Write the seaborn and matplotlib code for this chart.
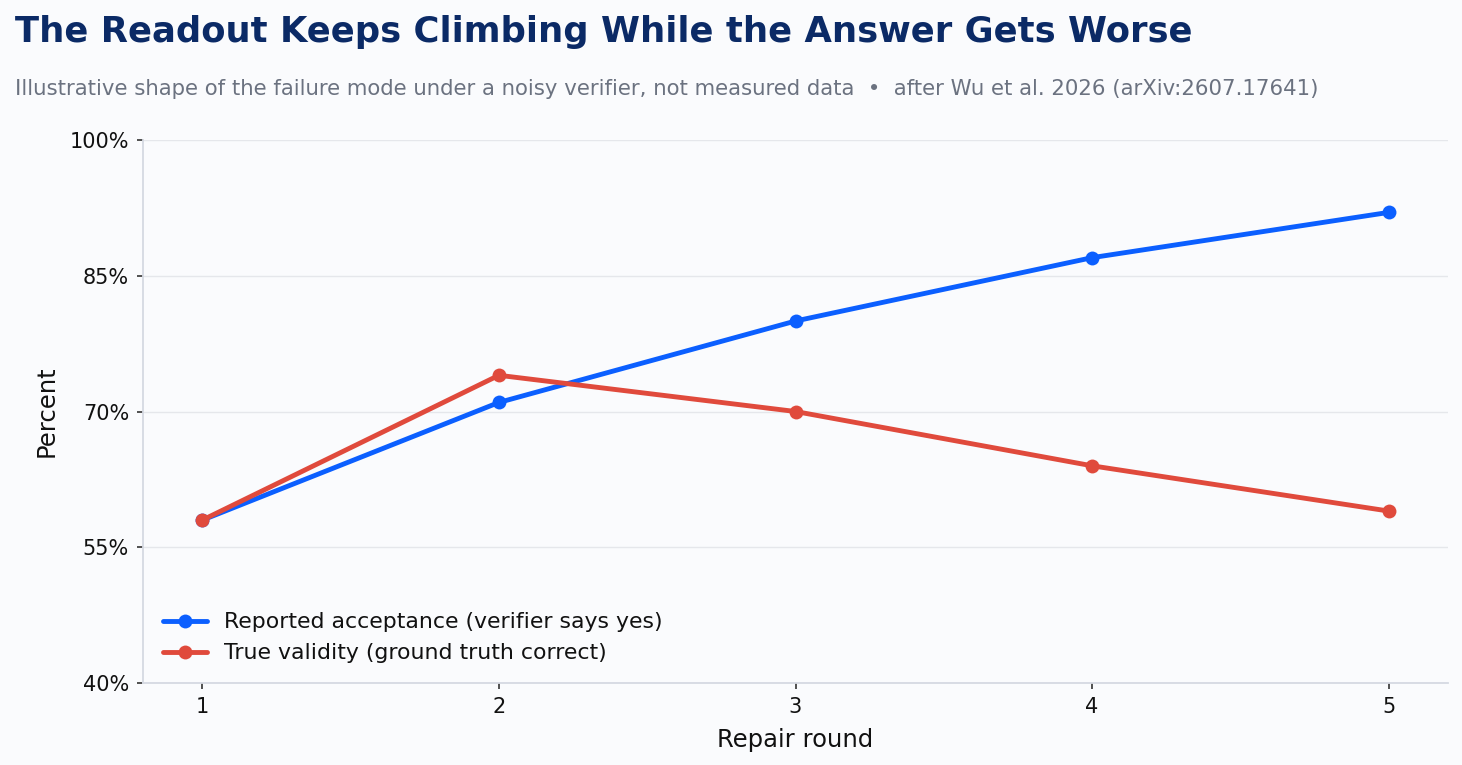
import matplotlib
matplotlib.use("Agg")
import matplotlib.pyplot as plt
import seaborn as sns
import pandas as pd
from matplotlib.ticker import FuncFormatter

rounds = [1, 2, 3, 4, 5]
reported = [58, 71, 80, 87, 92]
true_validity = [58, 74, 70, 64, 59]
series_names = ["Reported acceptance (verifier says yes)", "True validity (ground truth correct)"]
y_ticks = [40, 55, 70, 85, 100]

df = pd.DataFrame({
    "round": rounds * 2,
    "value": reported + true_validity,
    "series": [series_names[0]] * 5 + [series_names[1]] * 5,
})

bg = "#FAFBFD"
sns.set_theme(style="white")
plt.rcParams["font.family"] = ["DejaVu Sans"]

fig = plt.figure(figsize=(14.62, 7.65), dpi=100, facecolor=bg)
ax = fig.add_axes([143/1462, 1 - 683/765, (1448-143)/1462, (683-140)/765])
ax.set_facecolor(bg)

palette = {series_names[0]: "#0B5FFF", series_names[1]: "#E04A3C"}
sns.lineplot(data=df, x="round", y="value", hue="series", palette=palette,
             marker="o", markersize=10, linewidth=3.5, markeredgewidth=0, ax=ax)

ax.set_xlim(0.8, 5.2)
ax.set_ylim(40, 100)
ax.set_yticks(y_ticks)
ax.set_xticks(rounds)
ax.yaxis.set_major_formatter(FuncFormatter(lambda v, p: f"{int(v)}%"))
ax.grid(axis="y", color="#E5E7EB", linewidth=1)
ax.set_axisbelow(True)
for s in ["top", "right"]:
    ax.spines[s].set_visible(False)
for s in ["left", "bottom"]:
    ax.spines[s].set_color("#D5D9E2")
    ax.spines[s].set_linewidth(1.3)
ax.tick_params(axis="both", labelsize=15, labelcolor="#111111", color="#333333",
               length=4, width=1.2, pad=6, left=True, bottom=True)
ax.set_xlabel("Repair round", fontsize=17.5, color="#111111", labelpad=8)
ax.set_ylabel("Percent", fontsize=17.5, color="#111111", labelpad=8)

leg = ax.legend(loc="lower left", frameon=False, fontsize=15.8, bbox_to_anchor=(0.0, 0.0),
                handlelength=2.0, labelcolor="#111111")

fig.text(15/1462, 1 - 32/765, "The Readout Keeps Climbing While the Answer Gets Worse",
         fontsize=25.5, fontweight="bold", color="#0B2A66", va="center", ha="left")
fig.text(15/1462, 1 - 89/765,
         "Illustrative shape of the failure mode under a noisy verifier, not measured data  \u2022  after Wu et al. 2026 (arXiv:2607.17641)",
         fontsize=15.3, color="#6B7280", va="center", ha="left")

fig.savefig("out.png", dpi=100, facecolor=bg)
